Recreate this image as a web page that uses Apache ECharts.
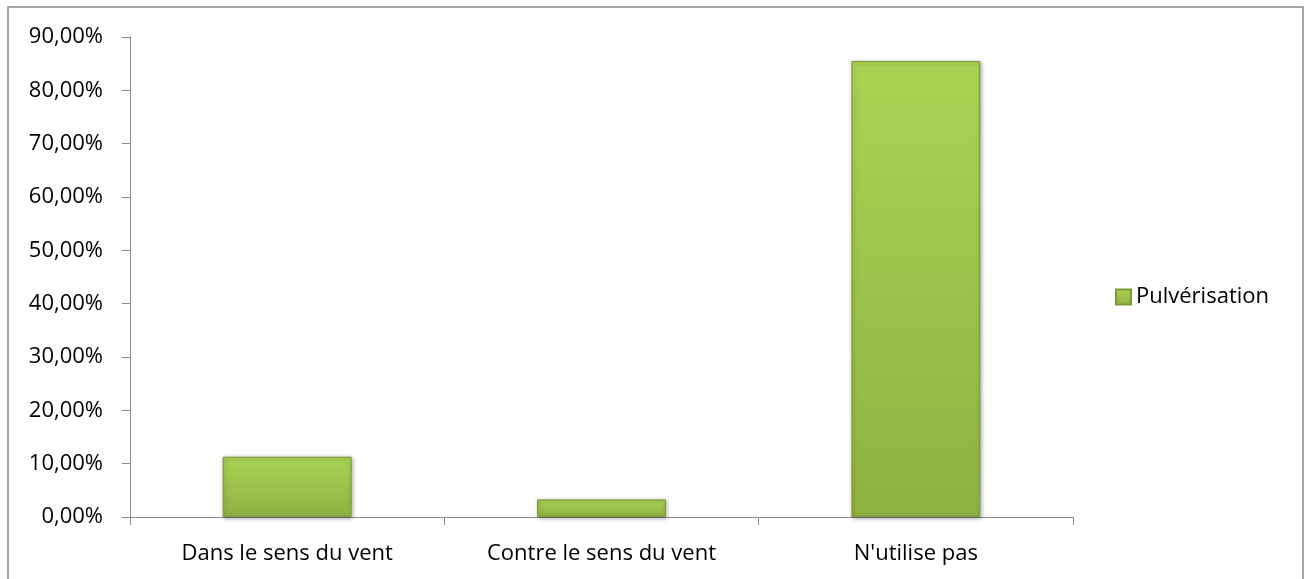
<!DOCTYPE html>
<html>
<head>
<meta charset="utf-8">
<script src="https://cdn.jsdelivr.net/npm/echarts@6/dist/echarts.min.js"></script>
<style>
  html, body { margin: 0; padding: 0; background: #fff; }
  #main { width: 1304px; height: 579px; }
</style>
</head>
<body>
<div id="main"></div>
<script>
// categories et valeurs (%)
var categories = ['Dans le sens du vent', 'Contre le sens du vent', "N'utilise pas"];
var pulverisation = [11.3, 3.3, 85.5];

var fontFamily = 'Open Sans, Noto Sans, sans-serif';

var barColor = new echarts.graphic.LinearGradient(0, 0, 0, 1, [
  { offset: 0, color: '#aad353' },
  { offset: 1, color: '#8fb243' }
]);

var myChart = echarts.init(document.getElementById('main'));
var option = {
  backgroundColor: '#fff',
  animation: false,
  textStyle: { fontFamily: fontFamily },
  graphic: [{
    type: 'rect',
    shape: { x: 8, y: 7, width: 1295, height: 620 },
    style: { fill: 'none', stroke: '#8a8a8a', lineWidth: 1.5 },
    silent: true,
    z: -1
  }],
  legend: {
    orient: 'vertical',
    left: 1115,
    top: 286,
    padding: 0,
    itemWidth: 15,
    itemHeight: 15,
    itemGap: 6,
    icon: 'rect',
    textStyle: { fontSize: 22, color: '#000', fontFamily: fontFamily },
    data: ['Pulvérisation']
  },
  grid: {
    left: 130,
    right: 231,
    top: 37,
    bottom: 62
  },
  xAxis: {
    type: 'category',
    data: categories,
    axisLine: { lineStyle: { color: '#8a8a8a', width: 1 } },
    axisTick: { show: true, length: 8, lineStyle: { color: '#8a8a8a' } },
    axisLabel: { color: '#000', fontSize: 22, margin: 26 }
  },
  yAxis: {
    type: 'value',
    min: 0,
    max: 90,
    interval: 10,
    axisLine: { show: true, lineStyle: { color: '#8a8a8a', width: 1 } },
    axisTick: { show: true, length: 8, lineStyle: { color: '#8a8a8a' } },
    splitLine: { show: false },
    axisLabel: {
      color: '#000',
      fontSize: 22,
      margin: 27,
      formatter: function (v) { return v.toFixed(2).replace('.', ',') + '%'; }
    }
  },
  series: [{
    name: 'Pulvérisation',
    type: 'bar',
    barWidth: '41%',
    data: pulverisation,
    itemStyle: {
      color: barColor,
      borderColor: '#7a9a36',
      borderWidth: 1,
      shadowColor: 'rgba(0,0,0,0.35)',
      shadowBlur: 4,
      shadowOffsetX: 1,
      shadowOffsetY: 1
    }
  }]
};
myChart.setOption(option);
</script>
</body>
</html>
